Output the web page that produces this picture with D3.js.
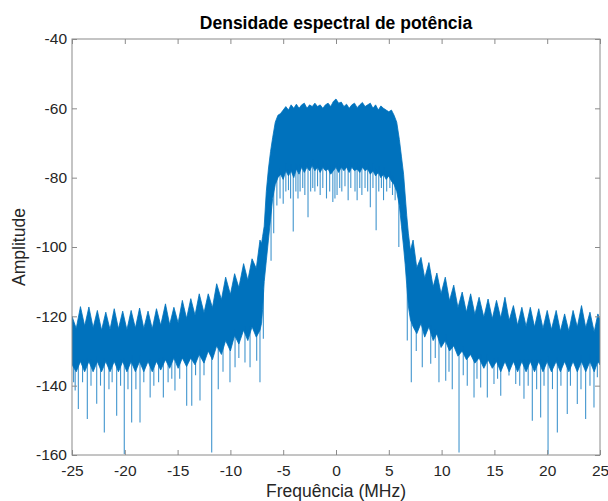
<!DOCTYPE html>
<html>
<head>
<meta charset="utf-8">
<script src="https://cdn.jsdelivr.net/npm/d3@7"></script>
<style>
  body { margin: 0; background: #fff; }
  svg { display: block; font-family: "Liberation Sans", Arial, sans-serif; }
</style>
</head>
<body>
<div id="chart"></div>
<script>
// envelope of the dense spectrum trace (MHz, dB)
const envFreq = [
  -25, -24.6, -24.2, -23.8, -23.4, -23.0, -22.6, -22.2, -21.8, -21.4, -21.0, -20.6, -20.2, -19.8,
  -19.4, -19.0, -18.6, -18.2, -17.8, -17.4, -17.0, -16.6, -16.15, -15.75, -15.35, -14.95, -14.55,
  -14.15, -13.75, -13.35, -12.95, -12.5, -12.1, -11.7, -11.3, -10.85, -10.45, -10.0, -9.6, -9.2,
  -8.75, -8.35, -7.95, -7.55, -7.2,
  -7.05, -6.95, -6.8, -6.6, -6.4, -6.2, -6.0, -5.75, -5.5, -5.25, -5.0, -4.75, -4.5, -4.25, -4.0,
  -3.75, -3.5, -3.25, -3.0, -2.75, -2.5, -2.25, -2.0, -1.75, -1.5, -1.25, -1.0, -0.75, -0.5, -0.25,
  0, 0.25, 0.5, 0.75, 1.0, 1.25, 1.5, 1.75, 2.0, 2.25, 2.5, 2.75, 3.0, 3.25, 3.5, 3.75, 4.0, 4.25,
  4.5, 4.75, 5.0, 5.25, 5.5, 5.75, 6.0, 6.2, 6.4, 6.55, 6.7, 6.85, 7.05,
  7.3, 7.65, 8.05, 8.4, 8.8, 9.2, 9.55, 9.95, 10.35, 10.75, 11.15, 11.55, 11.95, 12.35, 12.75,
  13.15, 13.55, 14.0, 14.4, 14.8, 15.2, 15.6, 16.0, 16.4, 16.8, 17.2, 17.6, 18.0, 18.4, 18.8,
  19.2, 19.6, 20.0, 20.4, 20.85, 21.25, 21.65, 22.05, 22.45, 22.85, 23.25, 23.65, 24.05, 24.45,
  24.8, 25
];
const envTop = [
  -120, -123.5, -117.2, -122.8, -117.3, -123.3, -118.3, -124, -118.8, -123.8, -117.8, -123.6, -118.5, -123.9,
  -118.3, -123.4, -117.6, -123.5, -118.5, -123.6, -117.8, -122.6, -116.4, -122.4, -117.4, -121.9, -115.4,
  -120.6, -114.9, -119.7, -113.5, -119, -113.5, -117.5, -110.6, -115.2, -108.7, -113.7, -107.7, -111.7,
  -104.8, -109.6, -103.4, -106.2, -98,
  -99, -97, -94, -84, -77.5, -72.5, -68.5, -64, -62, -61.5, -60.5, -59.5, -60.5, -59, -60,
  -58.8, -60, -59, -58.5, -60, -59, -59.5, -58.5, -59.5, -59, -60, -59, -58.5, -59.5, -58,
  -57.3, -58.5, -58.2, -59.5, -58.8, -60, -59, -58.5, -59.8, -59, -58.3, -59.5, -59, -58.5, -60, -59, -60.5, -59.3,
  -60, -60.5, -61, -60.5, -62, -64, -69, -74, -79, -85, -91, -96, -101,
  -98, -106, -103, -109, -104.5, -111.5, -107.5, -113.5, -108.7, -115.5, -111, -117.5, -113, -118.8, -113.5,
  -119.5, -114.5, -120.3, -115, -120.7, -115.4, -120.5, -114.5, -121.2, -116.9, -122.6, -117.4, -122.9, -117.4, -123.1,
  -117.8, -123.5, -118.3, -123.8, -118.3, -124.3, -119.3, -124.3, -118.3, -123.1, -116.9, -123.3, -118.8, -124.5,
  -119.3, -121
];
const envBottom = [
  -134, -136, -133, -136, -133, -136, -133, -136, -133, -136, -133, -136, -133, -136,
  -133, -136, -133, -136, -133, -136, -133, -135.5, -132.5, -135, -132, -135, -132,
  -134.5, -132, -134, -131, -133.5, -130, -132.5, -128.5, -131, -127, -130, -125.5, -128,
  -124, -127, -123, -126, -124,
  -122, -118, -110, -104, -98, -92, -86, -82, -80, -79, -80.5, -78, -79.5, -78, -80,
  -77.5, -79, -77, -78.5, -77, -78, -76.5, -78, -77, -78.5, -77, -78, -77.5, -79, -78,
  -77, -78.5, -77, -78, -77, -78.5, -77, -78, -77.5, -78.5, -77, -78, -77.5, -79, -78, -79.5, -78.5, -80,
  -79, -80.5, -79.5, -81, -82, -84, -88, -94, -100, -105, -111, -117, -121,
  -123, -125, -122, -126, -123, -127, -125, -129, -127, -130, -128.5, -131.5, -130, -132.5, -131,
  -133.5, -132, -135, -132.5, -135, -133, -136, -133, -136, -133, -136, -133, -136, -133, -136,
  -133, -136, -133, -136, -133, -136, -133, -136, -133, -136, -133, -136, -133, -136,
  -133, -134
];

// downward spikes of the trace (MHz, lowest dB reached)
const spikeFreq = [
  -24.85, -24.7, -24.4, -24.0, -23.55, -23.2, -22.66, -22.3, -21.94, -21.5, -21.2, -20.77, -20.4,
  -20.05, -19.7, -19.35, -18.95, -18.56, -18.2, -17.6, -17.25, -16.8, -16.35, -15.9, -15.55, -15.25,
  -14.8, -14.14, -13.66, -13.3, -12.88, -12.5, -11.77, -11.15, -10.7, -10.04, -9.56, -9.2, -8.62,
  -8.14, -7.51, -7.2, -6.88,
  -6.15, -5.9, -5.6, -5.3, -5.0, -4.75, -4.5, -4.3, -4.05, -3.8, -3.6, -3.4, -3.15, -2.95, -2.65,
  -2.4, -2.2, -2.0, -1.75, -1.5, -1.25, -0.9, -0.6, -0.3, -0.1, 0.1, 0.35, 0.55, 0.85, 1.15, 1.4,
  1.8, 2.0, 2.25, 2.45, 2.75, 3.0, 3.25, 3.5, 3.8, 4.05, 4.3, 4.5, 4.8, 5.1, 5.35, 5.6, 5.95,
  6.75, 7.13, 7.6, 8.17, 8.97, 9.4, 9.75, 10.39, 10.7, 11.01, 11.65, 12.05, 12.43, 13.07, 13.35,
  13.7, 14.33, 14.96, 15.3, 15.6, 16.38, 17.02, 17.4, 17.8, 18.2, 18.59, 19.0, 19.38, 19.7, 20.08,
  20.5, 20.96, 21.3, 21.9, 22.2, 22.85, 23.2, 23.64, 24.05, 24.43, 24.75
];
const spikeLow = [
  -139, -141.4, -146.7, -139, -149.6, -140, -145.2, -140, -153.5, -141, -139, -148.7, -140,
  -159.7, -141, -150.6, -141, -150.6, -139, -143.4, -140, -139, -143.4, -139, -138, -141.4,
  -138, -145.8, -145.8, -137, -144.3, -137, -159.3, -141, -136, -139, -134.7, -132, -133.3,
  -134.7, -132.8, -139, -126.5,
  -104, -96, -88, -86, -87.5, -84, -83.6, -86, -95.5, -84, -86, -84, -83, -85, -91.4,
  -84, -83, -84, -82.5, -85, -83, -86, -84, -87, -86, -85, -83, -84, -82.5, -86.5, -83,
  -84, -86.5, -83, -85, -83, -84, -88.5, -83, -95.2, -84, -83, -86.5, -84, -83, -85, -86.5, -100,
  -127, -139, -130, -134.7, -133.7, -132, -139, -138.6, -136, -141, -159.3, -137, -140, -143.4, -138,
  -140.5, -143.4, -139.5, -138, -142.9, -137.1, -139.5, -140, -143.8, -140, -150.1, -141, -149.2, -140, -159.8,
  -141, -153.5, -140, -148.2, -140, -145.3, -141, -149.6, -140, -146.3, -137.6
];

const xTicks = [-25, -20, -15, -10, -5, 0, 5, 10, 15, 20, 25];
const yTicks = [-160, -140, -120, -100, -80, -60, -40];

const W = 608, H = 501;
const margin = { top: 39, right: 8, bottom: 46, left: 72 },
      width = W - margin.left - margin.right,
      height = H - margin.top - margin.bottom;

const lineColor = "#0072BD";
const axisColor = "#8a8a8a";

const svg = d3.select("#chart")
  .append("svg")
  .attr("width", W)
  .attr("height", H);

const x = d3.scaleLinear().domain([-25, 25]).range([0, width]);
const y = d3.scaleLinear().domain([-160, -40]).range([height, 0]);

const chart = svg.append("g")
  .attr("transform", `translate(${margin.left},${margin.top})`);

svg.append("defs").append("clipPath")
  .attr("id", "plotclip")
  .append("rect")
  .attr("width", width)
  .attr("height", height);

const plot = chart.append("g").attr("clip-path", "url(#plotclip)");

// the dense trace: band between upper and lower envelope
const band = envFreq.map((f, i) => ({ f, top: envTop[i], bottom: envBottom[i] }));

plot.append("path")
  .datum(band)
  .attr("fill", lineColor)
  .attr("stroke", lineColor)
  .attr("stroke-width", 0.8)
  .attr("d", d3.area()
    .x(d => x(d.f))
    .y0(d => y(d.bottom))
    .y1(d => y(d.top)));

// spikes start inside the band
const bottomAt = d3.scaleLinear().domain(envFreq).range(envBottom);

plot.selectAll("line.spike")
  .data(spikeFreq.map((f, i) => ({ f, low: spikeLow[i] })))
  .enter()
  .append("line")
  .attr("class", "spike")
  .attr("x1", d => x(d.f))
  .attr("x2", d => x(d.f))
  .attr("y1", d => y(bottomAt(d.f) + 2))
  .attr("y2", d => y(d.low))
  .attr("stroke", lineColor)
  .attr("stroke-opacity", 0.75)
  .attr("stroke-width", 1.1);

// axes, MATLAB style: box with inward ticks on all four sides
const fmt = d => String(d);

const xAxis = chart.append("g")
  .attr("transform", `translate(0,${height})`)
  .call(d3.axisBottom(x).tickValues(xTicks).tickFormat(fmt).tickSize(-5).tickPadding(10));
const xAxisTop = chart.append("g")
  .call(d3.axisTop(x).tickValues(xTicks).tickFormat("").tickSize(-5));
const yAxis = chart.append("g")
  .call(d3.axisLeft(y).tickValues(yTicks).tickFormat(fmt).tickSize(-5).tickPadding(5));
const yAxisRight = chart.append("g")
  .attr("transform", `translate(${width},0)`)
  .call(d3.axisRight(y).tickValues(yTicks).tickFormat("").tickSize(-5));

[xAxis, xAxisTop, yAxis, yAxisRight].forEach(g => {
  g.select(".domain").remove();
  g.selectAll(".tick line").attr("stroke", axisColor);
  g.selectAll(".tick text")
    .attr("fill", "#262626")
    .style("font-size", "15.5px")
    .style("font-family", "'Liberation Sans', Arial, sans-serif");
});

chart.append("rect")
  .attr("width", width)
  .attr("height", height)
  .attr("fill", "none")
  .attr("stroke", axisColor)
  .attr("stroke-width", 1);

svg.append("text")
  .attr("x", margin.left + width / 2)
  .attr("y", 29)
  .attr("text-anchor", "middle")
  .attr("fill", "#000")
  .style("font-size", "17.5px")
  .style("font-weight", "bold")
  .text("Densidade espectral de potência");

svg.append("text")
  .attr("x", margin.left + width / 2)
  .attr("y", 497)
  .attr("text-anchor", "middle")
  .attr("fill", "#262626")
  .style("font-size", "17.5px")
  .text("Frequência (MHz)");

svg.append("text")
  .attr("transform", `translate(25,${margin.top + height / 2}) rotate(-90)`)
  .attr("text-anchor", "middle")
  .attr("fill", "#262626")
  .style("font-size", "17.5px")
  .text("Amplitude");
</script>
</body>
</html>
